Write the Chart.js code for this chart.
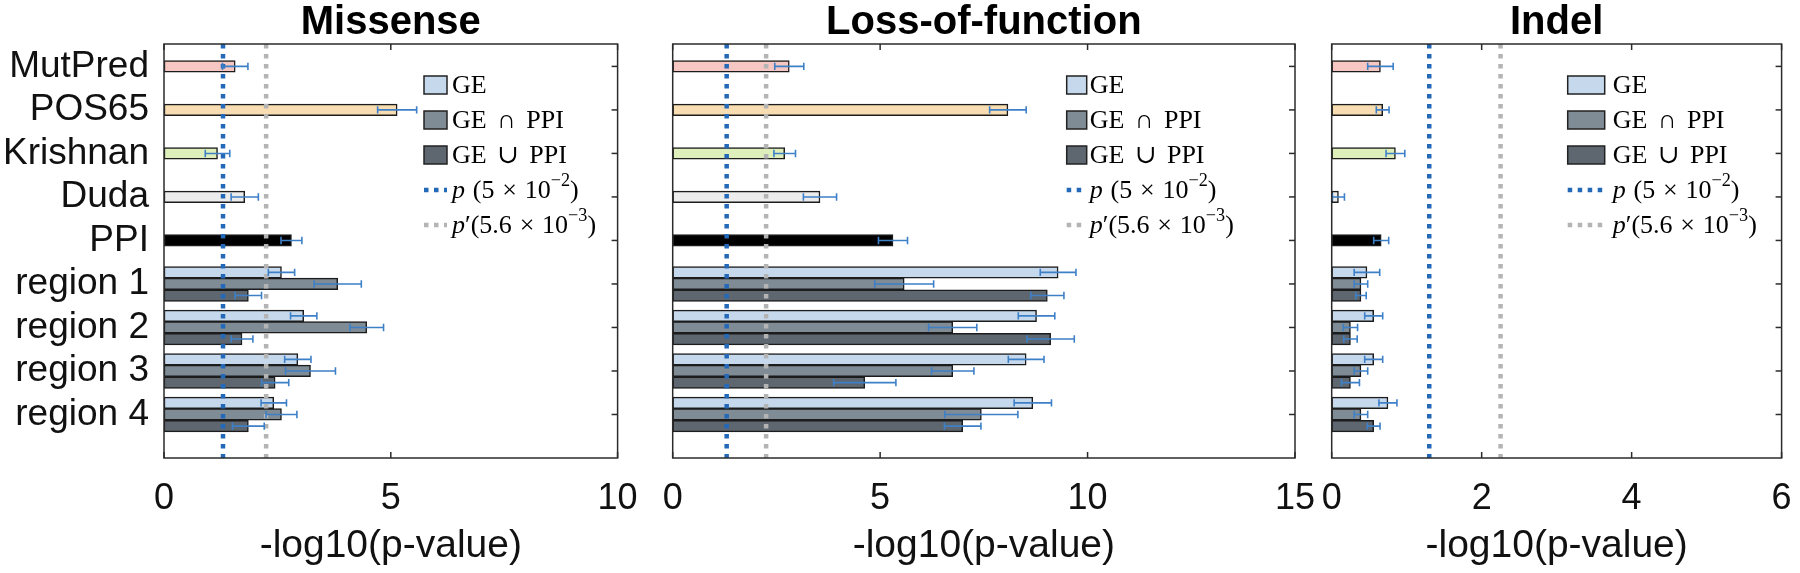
<!DOCTYPE html>
<html>
<head>
<meta charset="utf-8">
<script src="https://cdn.jsdelivr.net/npm/chart.js@4.4.1/dist/chart.umd.min.js"></script>
<style>
html, body { margin: 0; padding: 0; background: #ffffff; }
#wrap { position: relative; width: 1800px; height: 573px; overflow: hidden; background: #ffffff; }
.panel { position: absolute; top: 0; height: 573px; }
</style>
</head>
<body>
<div id="wrap">
  <div class="panel" style="left:0px;width:640px"><canvas id="c0"></canvas></div>
  <div class="panel" style="left:640px;width:680px"><canvas id="c1"></canvas></div>
  <div class="panel" style="left:1320px;width:480px"><canvas id="c2"></canvas></div>
</div>
<script>
// ---------------- DATA ----------------
const categories = ['MutPred', 'POS65', 'Krishnan', 'Duda', 'PPI', 'region 1', 'region 2', 'region 3', 'region 4'];
const predictorNames = ['MutPred', 'POS65', 'Krishnan', 'Duda', 'PPI'];
const regionNames = ['region 1', 'region 2', 'region 3', 'region 4'];
const seriesNames = ['GE', 'GE ∩ PPI', 'GE ∪ PPI'];
const thresholdNames = ['p (5 × 10⁻²)', 'p′(5.6 × 10⁻³)'];
const panelTitles = ['Missense', 'Loss-of-function', 'Indel'];
const xAxisTitle = '-log10(p-value)';
const pValueThresholds = [0.05, 0.0056];

const missenseXTicks = [0, 5, 10];
const lofXTicks = [0, 5, 10, 15];
const indelXTicks = [0, 2, 4, 6];

// Missense
const missensePredictors    = [1.57, 5.14, 1.18, 1.78, 2.81];
const missensePredictorsErr = [0.28, 0.43, 0.27, 0.30, 0.23];
const missenseGE     = [2.59, 3.08, 2.95, 2.42];
const missenseGEErr  = [0.29, 0.29, 0.29, 0.28];
const missenseAnd    = [3.83, 4.47, 3.23, 2.59];
const missenseAndErr = [0.52, 0.37, 0.55, 0.34];
const missenseOr     = [1.86, 1.72, 2.45, 1.86];
const missenseOrErr  = [0.29, 0.24, 0.30, 0.35];

// Loss-of-function
const lofPredictors    = [2.81, 8.08, 2.70, 3.55, 5.31];
const lofPredictorsErr = [0.35, 0.44, 0.26, 0.40, 0.35];
const lofGE     = [9.29, 8.77, 8.52, 8.68];
const lofGEErr  = [0.43, 0.44, 0.43, 0.45];
const lofAnd    = [5.58, 6.75, 6.75, 7.44];
const lofAndErr = [0.71, 0.58, 0.51, 0.88];
const lofOr     = [9.03, 9.11, 4.63, 6.99];
const lofOrErr  = [0.40, 0.57, 0.75, 0.44];

// Indel
const indelPredictors    = [0.65, 0.68, 0.85, 0.09, 0.66];
const indelPredictorsErr = [0.17, 0.085, 0.125, 0.08, 0.10];
const indelGE     = [0.47, 0.56, 0.56, 0.75];
const indelGEErr  = [0.17, 0.12, 0.12, 0.12];
const indelAnd    = [0.39, 0.25, 0.39, 0.39];
const indelAndErr = [0.09, 0.095, 0.09, 0.09];
const indelOr     = [0.39, 0.25, 0.25, 0.56];
const indelOrErr  = [0.07, 0.09, 0.12, 0.085];

// ---------------- STYLE ----------------
const predictorColors = ['#f5c6c2', '#f8dcb2', '#dfefbb', '#ececec', '#000000'];
const seriesColors = ['#c6d9ec', '#7f8b95', '#5e6770'];
const thresholdColors = ['#2468b8', '#b4b4b4'];
const errColor = '#3d80c8';
const axisColor = '#2b2b2b';
const textColor = '#111111';
const SANS = "'Liberation Sans', Arial, Helvetica, sans-serif";
const SERIF = "'Liberation Serif', 'DejaVu Serif', serif";

const panelLayout = [
  { padLeft: 0,    yAxisWidth: 164, padRight: 22.4, legendX: 260, swatchW: 23, textGap: 5, showY: true },
  { padLeft: 32.7, yAxisWidth: 0,   padRight: 25,   legendX: 394, swatchW: 20, textGap: 3, showY: false },
  { padLeft: 11.7, yAxisWidth: 0,   padRight: 18.4, legendX: 236, swatchW: 37, textGap: 8, showY: false }
];

const rowPositions = categories.map((c, i) => i + 1);
const nPred = predictorNames.length;
const pad = (arr, before, after) => [...Array(before).fill(null), ...arr, ...Array(after).fill(null)];

// math-style typesetting of the legend labels (runs of text, gaps in em)
const seriesLegendRuns = [
  [{ t: 'GE' }],
  [{ t: 'GE' }, { gap: 0.4 }, { t: '∩' }, { gap: 0.4 }, { t: 'PPI' }],
  [{ t: 'GE' }, { gap: 0.4 }, { t: '∪' }, { gap: 0.4 }, { t: 'PPI' }]
];
const thresholdLegendRuns = [
  [{ t: 'p', italic: true }, { gap: 0.3 }, { t: '(5' }, { gap: 0.3 }, { t: '×' }, { gap: 0.3 }, { t: '10' }, { t: '−2', sup: true }, { t: ')' }],
  [{ t: 'p', italic: true }, { t: '′' }, { t: '(5.6' }, { gap: 0.3 }, { t: '×' }, { gap: 0.3 }, { t: '10' }, { t: '−3', sup: true }, { t: ')' }]
];

// ---------------- PLUGINS ----------------
const boxPlugin = {
  id: 'matlabBox',
  beforeDatasetsDraw(chart) {
    const { ctx, chartArea: a, scales } = chart;
    ctx.save();
    ctx.strokeStyle = axisColor;
    ctx.lineWidth = 1.5;
    const tl = 6;
    scales.y.ticks.forEach(t => {
      const py = scales.y.getPixelForValue(t.value);
      ctx.beginPath(); ctx.moveTo(a.left, py); ctx.lineTo(a.left + tl, py); ctx.stroke();
    });
    ctx.restore();
  },
  afterDraw(chart) {
    const { ctx, chartArea: a, scales } = chart;
    ctx.save();
    ctx.strokeStyle = axisColor;
    ctx.lineWidth = 1.5;
    const tl = 6;
    scales.y.ticks.forEach(t => {
      const py = scales.y.getPixelForValue(t.value);
      ctx.beginPath(); ctx.moveTo(a.right, py); ctx.lineTo(a.right - tl, py); ctx.stroke();
    });
    scales.x.ticks.forEach(t => {
      const px = scales.x.getPixelForValue(t.value);
      ctx.beginPath(); ctx.moveTo(px, a.top); ctx.lineTo(px, a.top + tl); ctx.stroke();
      ctx.beginPath(); ctx.moveTo(px, a.bottom); ctx.lineTo(px, a.bottom - tl); ctx.stroke();
    });
    ctx.strokeRect(a.left, a.top, a.right - a.left, a.bottom - a.top);
    ctx.restore();
  }
};

const errorBarPlugin = {
  id: 'errorBars',
  afterDatasetsDraw(chart) {
    const { ctx, scales } = chart;
    ctx.save();
    ctx.strokeStyle = errColor;
    ctx.lineWidth = 1.6;
    chart.data.datasets.forEach((ds, di) => {
      if (!ds.errors) return;
      const meta = chart.getDatasetMeta(di);
      meta.data.forEach((el, i) => {
        const v = ds.data[i];
        const e = ds.errors[i];
        if (v == null || e == null) return;
        const x1 = scales.x.getPixelForValue(v - e);
        const x2 = scales.x.getPixelForValue(v + e);
        const y = el.y;
        const ch = 3.7;
        ctx.beginPath();
        ctx.moveTo(x1, y); ctx.lineTo(x2, y);
        ctx.moveTo(x1, y - ch); ctx.lineTo(x1, y + ch);
        ctx.moveTo(x2, y - ch); ctx.lineTo(x2, y + ch);
        ctx.stroke();
      });
    });
    ctx.restore();
  }
};

function drawRuns(ctx, runs, x, y, size) {
  let cx = x;
  runs.forEach(r => {
    if (r.gap) { cx += r.gap * size; return; }
    const fs = r.sup ? size * 0.7 : size;
    ctx.font = (r.italic ? 'italic ' : '') + fs + 'px ' + SERIF;
    const dy = r.sup ? -size * 0.36 : 0;
    ctx.fillText(r.t, cx, y + dy);
    cx += ctx.measureText(r.t).width;
  });
}

const legendPlugin = {
  id: 'insideLegend',
  afterDraw(chart) {
    const { ctx, chartArea: a } = chart;
    const L = chart.options.plugins.insideLegend;
    ctx.save();
    const x0 = a.left + L.legendX;
    const rowGap = 35;
    const y0 = a.top + 41;
    const fsz = 26;
    ctx.textBaseline = 'middle';
    let row = 0;
    chart.data.datasets.forEach(ds => {
      if (!ds.legendRuns) return;
      const y = y0 + row * rowGap;
      if (ds.type === 'line') {
        ctx.save();
        ctx.strokeStyle = ds.borderColor;
        ctx.lineWidth = 4.5;
        ctx.setLineDash([4.5, 5.5]);
        ctx.beginPath(); ctx.moveTo(x0, y); ctx.lineTo(x0 + L.swatchW, y); ctx.stroke();
        ctx.restore();
      } else {
        ctx.fillStyle = ds.backgroundColor;
        ctx.fillRect(x0, y - 9, L.swatchW, 18);
        ctx.strokeStyle = '#222';
        ctx.lineWidth = 1.5;
        ctx.strokeRect(x0, y - 9, L.swatchW, 18);
      }
      ctx.fillStyle = '#000';
      drawRuns(ctx, ds.legendRuns, x0 + L.swatchW + L.textGap, y + 1, fsz);
      row++;
    });
    ctx.restore();
  }
};

// ---------------- BUILD ----------------
function makeChart(canvasId, idx, xMax, xTicks, pred, predErr, ge, geErr, and, andErr, or, orErr) {
  const lay = panelLayout[idx];
  const nReg = regionNames.length;
  const barCommon = {
    type: 'bar',
    skipNull: true,
    barThickness: 11.6,
    borderWidth: 1.5,
    borderColor: '#1c1c1c',
    borderSkipped: false,
    order: 2
  };
  const seriesData = [[ge, geErr], [and, andErr], [or, orErr]];
  const datasets = [
    Object.assign({}, barCommon, {
      label: 'predictors',
      data: pad(pred, 0, nReg),
      errors: pad(predErr, 0, nReg),
      backgroundColor: predictorColors
    })
  ];
  seriesNames.forEach((name, k) => {
    datasets.push(Object.assign({}, barCommon, {
      label: name,
      data: pad(seriesData[k][0], nPred, 0),
      errors: pad(seriesData[k][1], nPred, 0),
      backgroundColor: seriesColors[k],
      legendRuns: seriesLegendRuns[k]
    }));
  });
  pValueThresholds.forEach((p, k) => {
    const v = -Math.log10(p);
    datasets.push({
      type: 'line',
      label: thresholdNames[k],
      data: [{ x: v, y: 0.485 }, { x: v, y: 10 }],
      borderColor: thresholdColors[k],
      borderWidth: 4.5,
      borderDash: [4.5, 5.5],
      pointRadius: 0,
      fill: false,
      order: 0,
      legendRuns: thresholdLegendRuns[k]
    });
  });

  return new Chart(document.getElementById(canvasId), {
    type: 'bar',
    data: { labels: rowPositions, datasets },
    options: {
      indexAxis: 'y',
      responsive: true,
      maintainAspectRatio: false,
      animation: false,
      layout: { padding: { left: lay.padLeft, right: lay.padRight, top: 0, bottom: 0 } },
      plugins: {
        legend: { display: false },
        tooltip: { enabled: false },
        title: {
          display: true,
          text: panelTitles[idx],
          fullSize: false,
          color: '#000',
          font: { family: SANS, size: 40, weight: 'bold', lineHeight: 1 },
          padding: { top: 3, bottom: 1 }
        },
        insideLegend: lay
      },
      scales: {
        x: {
          type: 'linear',
          position: 'bottom',
          min: 0,
          max: xMax,
          offset: false,
          afterBuildTicks(s) { s.ticks = xTicks.map(v => ({ value: v })); },
          afterFit(s) { s.height = 115; s.paddingLeft = 0; s.paddingRight = 0; },
          grid: { display: false, drawTicks: false },
          border: { display: false },
          ticks: { color: textColor, font: { family: SANS, size: 36 }, padding: 19, maxRotation: 0, autoSkip: false },
          title: { display: true, text: xAxisTitle, color: textColor, font: { family: SANS, size: 39 }, padding: { top: 0, bottom: 3 } }
        },
        y: {
          type: 'linear',
          position: 'left',
          reverse: true,
          offset: false,
          min: 0.485,
          max: 10,
          display: lay.showY,
          afterBuildTicks(s) { s.ticks = rowPositions.map(v => ({ value: v })); },
          afterFit(s) { if (lay.showY) s.width = lay.yAxisWidth; s.paddingTop = 0; s.paddingBottom = 0; },
          grid: { display: false, drawTicks: false },
          border: { display: false },
          ticks: {
            color: textColor,
            font: { family: SANS, size: 37 },
            padding: 15,
            autoSkip: false,
            callback: (v) => categories[rowPositions.indexOf(v)] ?? ''
          }
        }
      }
    },
    plugins: [boxPlugin, errorBarPlugin, legendPlugin]
  });
}

makeChart('c0', 0, 10, missenseXTicks, missensePredictors, missensePredictorsErr, missenseGE, missenseGEErr, missenseAnd, missenseAndErr, missenseOr, missenseOrErr);
makeChart('c1', 1, 15, lofXTicks, lofPredictors, lofPredictorsErr, lofGE, lofGEErr, lofAnd, lofAndErr, lofOr, lofOrErr);
makeChart('c2', 2, 6, indelXTicks, indelPredictors, indelPredictorsErr, indelGE, indelGEErr, indelAnd, indelAndErr, indelOr, indelOrErr);
</script>
</body>
</html>
